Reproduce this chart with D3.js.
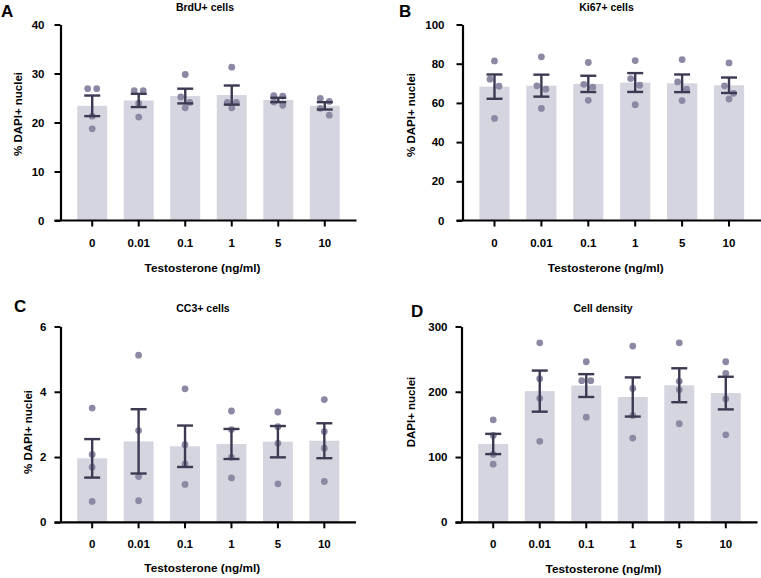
<!DOCTYPE html>
<html><head><meta charset="utf-8">
<script src="https://cdn.jsdelivr.net/npm/d3@7"></script>
<style>
html,body{margin:0;padding:0;background:#fff;}
svg{display:block;font-family:"Liberation Sans",Arial,sans-serif;}
</style></head>
<body>
<svg id="chart" width="761" height="578"></svg>
<script>
// ---- data ----
const categories = ["0", "0.01", "0.1", "1", "5", "10"];
const xAxisTitle = "Testosterone (ng/ml)";

const brduMean = [23.4, 24.5, 25.4, 25.6, 24.6, 23.4];
const brduSem = [2.1, 1.35, 1.5, 1.95, 0.45, 0.75];
const brduPoints = [[26.9, 26.9, 21.3, 18.7], [26.5, 26.5, 23.9, 21.1], [29.8, 25.2, 24.1, 23.0],
                    [31.3, 24.1, 24.1, 23.0], [25.5, 25.4, 24.2, 23.5], [24.9, 24.3, 22.9, 21.5]];
const brduTicks = [0, 10, 20, 30, 40];

const ki67Mean = [68.3, 68.8, 69.7, 70.4, 70.0, 69.0];
const ki67Sem = [6.2, 5.6, 4.15, 4.8, 4.5, 3.95];
const ki67Points = [[81.4, 72.1, 68.5, 52.1], [83.5, 68.7, 67.0, 57.2], [80.6, 69.5, 68.0, 61.3],
                    [81.6, 72.4, 69.0, 59.1], [82.1, 70.7, 67.0, 61.2], [80.4, 68.7, 64.9, 62.0]];
const ki67Ticks = [0, 20, 40, 60, 80, 100];

const cc3Mean = [1.96, 2.48, 2.33, 2.40, 2.47, 2.50];
const cc3Sem = [0.59, 0.985, 0.635, 0.46, 0.48, 0.535];
const cc3Points = [[3.50, 2.08, 1.69, 0.64], [5.12, 2.81, 1.40, 0.66], [4.09, 2.38, 1.79, 1.16],
                   [3.41, 2.84, 1.99, 1.36], [3.38, 2.93, 2.42, 1.18], [3.76, 2.78, 2.27, 1.25]];
const cc3Ticks = [0, 2, 4, 6];

const densityMean = [120, 201, 209.5, 192, 210, 198];
const densitySem = [15.5, 31.5, 17.5, 30, 26, 25];
const densityPoints = [[157, 133, 104, 89], [275, 220, 190, 124], [246, 217, 217, 161],
                       [270, 205, 163.5, 129], [275, 216, 203, 151], [246, 228, 189, 134]];
const densityTicks = [0, 100, 200, 300];

// ---- layout / style ----
const BAR = "#d5d5e0", DOT = "#8c89a5", ERR = "#3b3a52";
const panels = [
  {letter: "A", title: "BrdU+ cells", ylabel: "% DAPI+ nuclei", mean: brduMean, sem: brduSem, pts: brduPoints, ticks: brduTicks,
   x0: 60.5, x1: 356.5, yb: 220.5, yt: 24.5, tickPad: 10, ylx: 18, yly: 114, tx: 205, ty: 11, lx: 1, ly: 17, xtt: 272},
  {letter: "B", title: "Ki67+ cells", ylabel: "% DAPI+ nuclei", mean: ki67Mean, sem: ki67Sem, pts: ki67Points, ticks: ki67Ticks,
   x0: 462.5, x1: 761, yb: 220.5, yt: 24.5, tickPad: 12, ylx: 411, yly: 115, tx: 606.5, ty: 11, lx: 399, ly: 17, xtt: 272},
  {letter: "C", title: "CC3+ cells", ylabel: "% DAPI+ nuclei", mean: cc3Mean, sem: cc3Sem, pts: cc3Points, ticks: cc3Ticks,
   x0: 60.5, x1: 356, yb: 522.3, yt: 326.5, tickPad: 8, ylx: 28, yly: 432, tx: 203, ty: 312, lx: 14, ly: 312, xtt: 572},
  {letter: "D", title: "Cell density", ylabel: "DAPI+ nuclei", mean: densityMean, sem: densitySem, pts: densityPoints, ticks: densityTicks,
   x0: 461.5, x1: 757.5, yb: 522.3, yt: 326.5, tickPad: 8, ylx: 411, yly: 412, tx: 603, ty: 312, lx: 411, ly: 317, xtt: 573}
];

const svg = d3.select("#chart");

panels.forEach(p => {
  const g = svg.append("g");
  const x = d3.scaleBand().domain(categories).range([p.x0, p.x1]).paddingInner(0.356).paddingOuter(0.36);
  const y = d3.scaleLinear().domain([p.ticks[0], p.ticks[p.ticks.length - 1]]).range([p.yb, p.yt]);
  const rows = categories.map((c, i) => ({c, m: p.mean[i], s: p.sem[i], pts: p.pts[i]}));

  // bars
  g.selectAll("rect.bar").data(rows).join("rect").attr("class", "bar")
    .attr("x", d => x(d.c)).attr("width", x.bandwidth())
    .attr("y", d => y(d.m)).attr("height", d => y(0) - y(d.m))
    .attr("fill", BAR);

  // dots with simple symmetric spreading for overlapping values
  const dots = [];
  rows.forEach(d => {
    const sorted = d.pts.map(v => ({v, py: y(v)})).sort((a, b) => a.py - b.py);
    const groups = [];
    sorted.forEach(o => {
      const last = groups[groups.length - 1];
      if (last && last.length < 2 && o.py - last[last.length - 1].py < 7.5) last.push(o); else groups.push([o]);
    });
    groups.forEach(gr => gr.forEach((o, k) => {
      dots.push({cx: x(d.c) + x.bandwidth() / 2 + (k - (gr.length - 1) / 2) * 9, cy: o.py});
    }));
  });
  g.selectAll("circle.dot").data(dots).join("circle").attr("class", "dot")
    .attr("cx", d => d.cx).attr("cy", d => d.cy).attr("r", 3.4).attr("fill", DOT);

  // error bars
  const eb = g.selectAll("g.err").data(rows).join("g").attr("class", "err")
    .attr("stroke", ERR).attr("stroke-width", 2.4).attr("fill", "none");
  const cx = d => x(d.c) + x.bandwidth() / 2;
  eb.append("line").attr("x1", cx).attr("x2", cx).attr("y1", d => y(d.m + d.s)).attr("y2", d => y(d.m - d.s));
  eb.append("line").attr("x1", d => cx(d) - 8).attr("x2", d => cx(d) + 8).attr("y1", d => y(d.m + d.s)).attr("y2", d => y(d.m + d.s));
  eb.append("line").attr("x1", d => cx(d) - 8).attr("x2", d => cx(d) + 8).attr("y1", d => y(d.m - d.s)).attr("y2", d => y(d.m - d.s));

  // axes
  const yAxis = g.append("g").attr("transform", `translate(${p.x0},0)`)
    .call(d3.axisLeft(y).tickValues(p.ticks).tickFormat(d3.format("d")).tickSize(6).tickSizeOuter(0).tickPadding(p.tickPad));
  const xAxis = g.append("g").attr("transform", `translate(0,${p.yb})`)
    .call(d3.axisBottom(x).tickSize(6).tickSizeOuter(0).tickPadding(12));
  [xAxis, yAxis].forEach(a => {
    a.select(".domain").attr("stroke", "#000").attr("stroke-width", 2.2);
    a.selectAll(".tick line").attr("stroke", "#000").attr("stroke-width", 2);
    a.selectAll("text").attr("fill", "#000").attr("font-size", 11.5).attr("font-weight", "bold")
      .attr("font-family", "'Liberation Sans', Arial, sans-serif");
  });
  // extend x-axis line left to meet y axis
  xAxis.select(".domain").attr("d", `M${p.x0 - 6},0H${p.x1}`);

  // titles
  g.append("text").attr("x", p.tx).attr("y", p.ty).attr("text-anchor", "middle")
    .attr("font-size", 10.5).attr("font-weight", "bold").text(p.title);
  g.append("text").attr("x", p.lx).attr("y", p.ly)
    .attr("font-size", 17).attr("font-weight", "bold").text(p.letter);
  g.append("text").attr("transform", `translate(${p.ylx},${p.yly}) rotate(-90)`)
    .attr("text-anchor", "middle").attr("dominant-baseline", "central")
    .attr("font-size", 11.5).attr("font-weight", "bold").text(p.ylabel);
  g.append("text").attr("x", (p.x0 + p.x1) / 2 - 6).attr("y", p.xtt).attr("text-anchor", "middle")
    .attr("font-size", 11.8).attr("font-weight", "bold").text(xAxisTitle);
});
</script>
</body></html>
